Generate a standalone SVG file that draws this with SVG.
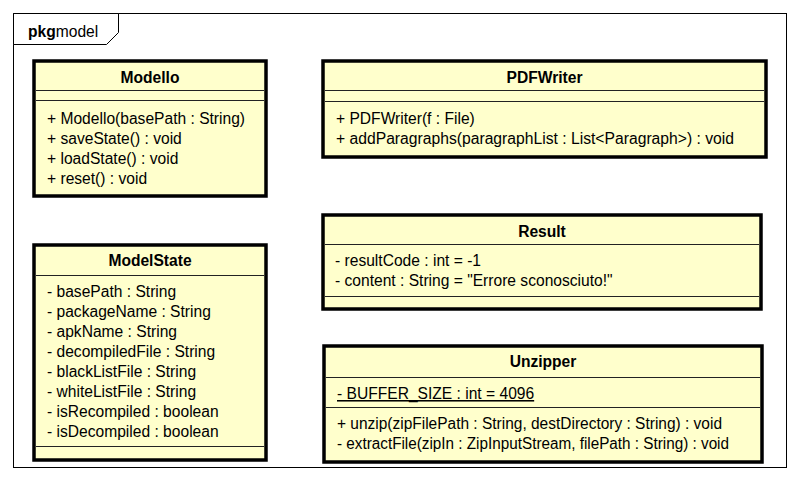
<svg xmlns="http://www.w3.org/2000/svg" width="798" height="482" viewBox="0 0 798 482">
<style>
text{font-family:"Liberation Sans",Arial,sans-serif;font-size:15.6px;fill:#000}
.t{font-weight:bold;text-anchor:middle}
.b{fill:#FFFFCC;stroke:#000;stroke-width:3.5}
.d{stroke:#222;stroke-width:1}
.f{fill:#fff;stroke:#000;stroke-width:1}
</style>
<rect width="798" height="482" fill="#fff"/>
<g id="pkg">
<rect class="f" x="13.5" y="13.5" width="773" height="454"/>
<path class="f" d="M13.5,13.5H118.5V32.5L106.5,44.5H13.5Z"/>
<text x="28" y="37"><tspan font-weight="bold">pkg</tspan>model</text>
</g>
<g id="connectors"></g>
<g id="Modello">
<rect class="b" x="34" y="61" width="232" height="135"/>
<line class="d" x1="36" y1="90.5" x2="264" y2="90.5"/>
<line class="d" x1="36" y1="100.5" x2="264" y2="100.5"/>
<text class="t" x="150" y="83">Modello</text>
<text x="47" y="124">+ Modello(basePath : String)</text>
<text x="47" y="144">+ saveState() : void</text>
<text x="47" y="164">+ loadState() : void</text>
<text x="47" y="184">+ reset() : void</text>
</g>
<g id="ModelState">
<rect class="b" x="34" y="245" width="232" height="215"/>
<line class="d" x1="36" y1="275.5" x2="264" y2="275.5"/>
<line class="d" x1="36" y1="446.5" x2="264" y2="446.5"/>
<text class="t" x="150" y="266">ModelState</text>
<text x="47" y="297">- basePath : String</text>
<text x="47" y="317">- packageName : String</text>
<text x="47" y="337">- apkName : String</text>
<text x="47" y="357">- decompiledFile : String</text>
<text x="47" y="377">- blackListFile : String</text>
<text x="47" y="397">- whiteListFile : String</text>
<text x="47" y="417">- isRecompiled : boolean</text>
<text x="47" y="437">- isDecompiled : boolean</text>
</g>
<g id="PDFWriter">
<rect class="b" x="323" y="61" width="443" height="96"/>
<line class="d" x1="325" y1="90.5" x2="764" y2="90.5"/>
<line class="d" x1="325" y1="101.5" x2="764" y2="101.5"/>
<text class="t" x="544.5" y="83">PDFWriter</text>
<text x="336" y="124">+ PDFWriter(f : File)</text>
<text x="336" y="144" textLength="398" lengthAdjust="spacingAndGlyphs">+ addParagraphs(paragraphList : List&lt;Paragraph&gt;) : void</text>
</g>
<g id="Result">
<rect class="b" x="323" y="215" width="438" height="94"/>
<line class="d" x1="325" y1="244.5" x2="759" y2="244.5"/>
<line class="d" x1="325" y1="296.5" x2="759" y2="296.5"/>
<text class="t" x="542" y="237">Result</text>
<text x="335" y="266">- resultCode : int = -1</text>
<text x="335" y="286">- content : String = "Errore sconosciuto!"</text>
</g>
<g id="Unzipper">
<rect class="b" x="324" y="346" width="438" height="116"/>
<line class="d" x1="326" y1="377.5" x2="760" y2="377.5"/>
<line class="d" x1="326" y1="407.5" x2="760" y2="407.5"/>
<text class="t" x="543" y="367">Unzipper</text>
<text x="337" y="399" text-decoration="underline">- BUFFER_SIZE : int = 4096</text>
<text x="337" y="429" textLength="385" lengthAdjust="spacingAndGlyphs">+ unzip(zipFilePath : String, destDirectory : String) : void</text>
<text x="337" y="449" textLength="392" lengthAdjust="spacingAndGlyphs">- extractFile(zipIn : ZipInputStream, filePath : String) : void</text>
</g>
</svg>
